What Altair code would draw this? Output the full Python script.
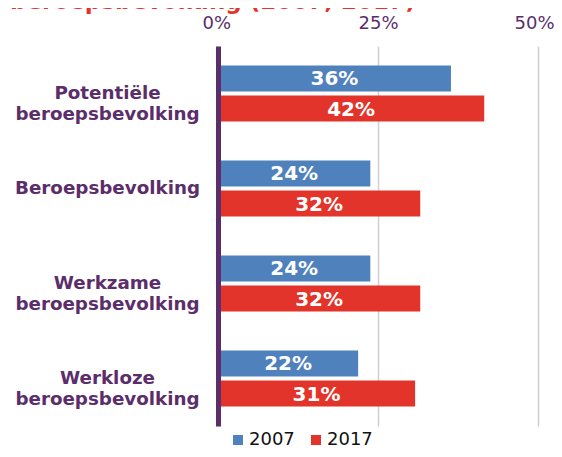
import altair as alt
import pandas as pd

categories = ["Potentiële\nberoepsbevolking", "Beroepsbevolking",
              "Werkzame\nberoepsbevolking", "Werkloze\nberoepsbevolking"]
years = ["2007", "2017"]
values_2007 = [0.364, 0.238, 0.238, 0.219]
values_2017 = [0.416, 0.316, 0.316, 0.308]
labels_2007 = ["36%", "24%", "24%", "22%"]
labels_2017 = ["42%", "32%", "32%", "31%"]
axis_ticks = [0, 0.25, 0.5]
title_text = "beroepsbevolking (2007, 2017)"

BLUE = "#4f81bd"
RED = "#e2342a"
PURPLE = "#5b2e6b"
FONT = "DejaVu Sans"

rows = []
for i, c in enumerate(categories):
    rows.append({"cat": c, "year": years[0], "value": values_2007[i], "label": labels_2007[i]})
    rows.append({"cat": c, "year": years[1], "value": values_2017[i], "label": labels_2017[i]})
df = pd.DataFrame(rows)

base = alt.Chart(df).transform_calculate(mid="datum.value / 2").encode(
    y=alt.Y("cat:N", sort=categories,
            scale=alt.Scale(paddingInner=0.41, paddingOuter=0.205),
            axis=alt.Axis(title=None, ticks=False, domainColor=PURPLE, domainWidth=5,
                          labelAlign="center", labelPadding=111, labelFont=FONT,
                          labelFontSize=18.3, labelFontWeight="bold", labelColor=PURPLE,
                          labelLineHeight=21, labelLimit=300, zindex=1,
                          labelExpr="split(datum.label, '\\n')")),
    yOffset=alt.YOffset("year:N", sort=years,
                        scale=alt.Scale(paddingInner=0.133, paddingOuter=0)),
)

bars = base.mark_bar().encode(
    x=alt.X("value:Q", scale=alt.Scale(domain=[0, 0.5]),
            axis=alt.Axis(orient="top", values=axis_ticks, format=".0%", title=None,
                          domain=False, ticks=False, grid=True, gridColor="#d0d0d0",
                          gridWidth=1.5, labelFont=FONT, labelFontSize=18,
                          labelColor=PURPLE, labelPadding=14, labelFlush=True,
                          labelFlushOffset=16)),
    color=alt.Color("year:N", scale=alt.Scale(domain=years, range=[BLUE, RED]),
                    legend=alt.Legend(title=None, orient="none", legendX=11, legendY=385,
                                      direction="horizontal", symbolType="square",
                                      symbolSize=100, symbolStrokeWidth=0,
                                      labelFont=FONT, labelFontSize=18, labelColor="#111111",
                                      columnPadding=12, labelOffset=2, padding=0)),
)

text = base.mark_text(color="white", font=FONT, fontSize=20, fontWeight="bold",
                      align="center", baseline="middle", dy=1).encode(
    x=alt.X("mid:Q"),
    text="label:N",
)

title = alt.Chart(pd.DataFrame({"t": [title_text]})).mark_text(
    color=RED, font=FONT, fontSize=23, fontWeight="bold", align="left",
    baseline="alphabetic").encode(
    x=alt.value(-208), y=alt.value(-37), text="t:N")

chart = alt.layer(bars, text, title).properties(
    width=320, height=380,
    autosize=alt.AutoSizeParams(type="none"),
    padding={"left": 210, "top": 38, "right": 16, "bottom": 23},
).configure_view(stroke=None)

chart.save("out.html", embed_options={"renderer": "svg", "actions": False})
